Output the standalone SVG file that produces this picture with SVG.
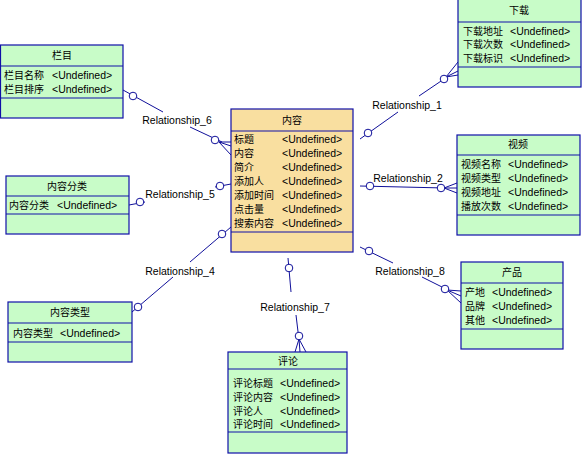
<svg xmlns="http://www.w3.org/2000/svg" width="582" height="454" viewBox="0 0 582 454">
<style>
.ent rect{stroke:#1010A8;stroke-width:1.2}
.g{fill:#C8FCC8}
.o{fill:#F9DFA0}
.sep{stroke:#1010A8;stroke-width:1.2}
text{font-family:"Liberation Sans","Noto Sans CJK SC",sans-serif;font-size:10.5px;fill:#000}
.cjk{font-size:10px}
.hd{text-anchor:middle;font-size:10px}
.lbl{font-size:10.5px}
.c line,.c polyline{stroke:#10109A;stroke-width:1;fill:none}
.c circle{stroke:#10109A;stroke-width:1;fill:#fff}
</style>
<rect width="582" height="454" fill="#fff"/>

<g class="c" id="connectors">
  <!-- Relationship_6 -->
  <line x1="123" y1="90" x2="163" y2="112"/>
  <line x1="190" y1="127" x2="222" y2="142"/>
  <line x1="219" y1="142" x2="231" y2="142"/>
  <line x1="219" y1="142" x2="231" y2="146"/>
  <line x1="219" y1="142" x2="231" y2="155"/>
  <circle cx="133" cy="96" r="3.8"/>
  <circle cx="215" cy="140" r="3.8"/>
  <text class="lbl" x="177" y="124" text-anchor="middle">Relationship_6</text>

  <!-- Relationship_5 -->
  <line x1="129" y1="205" x2="145" y2="202"/>
  <line x1="215" y1="187" x2="231" y2="184"/>
  <circle cx="140" cy="202" r="3.8"/>
  <circle cx="220" cy="186" r="3.8"/>
  <text class="lbl" x="180" y="198" text-anchor="middle">Relationship_5</text>

  <!-- Relationship_4 -->
  <line x1="231" y1="227" x2="190" y2="262"/>
  <line x1="173" y1="277" x2="132" y2="312"/>
  <circle cx="222" cy="234" r="3.8"/>
  <circle cx="138" cy="307" r="3.8"/>
  <text class="lbl" x="180" y="275" text-anchor="middle">Relationship_4</text>

  <!-- Relationship_7 -->
  <line x1="288" y1="258" x2="291" y2="292"/>
  <line x1="296" y1="315" x2="299" y2="340"/>
  <line x1="299" y1="339" x2="295" y2="352"/>
  <line x1="299" y1="339" x2="300" y2="352"/>
  <line x1="299" y1="339" x2="306" y2="352"/>
  <circle cx="289" cy="268" r="3.8"/>
  <circle cx="299" cy="336" r="3.8"/>
  <text class="lbl" x="295" y="311" text-anchor="middle">Relationship_7</text>

  <!-- Relationship_1 -->
  <line x1="360" y1="139" x2="398" y2="112"/>
  <line x1="419" y1="96" x2="447" y2="77"/>
  <line x1="446" y1="77" x2="458" y2="62"/>
  <line x1="446" y1="77" x2="458" y2="71"/>
  <line x1="446" y1="77" x2="458" y2="75"/>
  <circle cx="368" cy="133" r="3.8"/>
  <circle cx="444" cy="79" r="3.8"/>
  <text class="lbl" x="407" y="109" text-anchor="middle">Relationship_1</text>

  <!-- Relationship_2 -->
  <line x1="360" y1="186" x2="445" y2="188"/>
  <line x1="444" y1="188" x2="457" y2="183"/>
  <line x1="444" y1="188" x2="457" y2="188"/>
  <line x1="444" y1="188" x2="457" y2="193"/>
  <circle cx="370" cy="186" r="3.8"/>
  <circle cx="441" cy="188" r="3.8"/>
  <text class="lbl" x="408" y="182" text-anchor="middle">Relationship_2</text>

  <!-- Relationship_8 -->
  <line x1="360" y1="247" x2="393" y2="263"/>
  <line x1="422" y1="277" x2="448" y2="290"/>
  <line x1="447" y1="290" x2="461" y2="291"/>
  <line x1="447" y1="290" x2="461" y2="296"/>
  <line x1="447" y1="290" x2="461" y2="303"/>
  <circle cx="369" cy="251" r="3.8"/>
  <circle cx="445" cy="289" r="3.8"/>
  <text class="lbl" x="410" y="275" text-anchor="middle">Relationship_8</text>
</g>

<g class="ent" id="lanmu">
  <rect class="g" x="0.5" y="45" width="122.5" height="73"/>
  <line class="sep" x1="0.5" y1="66" x2="123" y2="66"/>
  <line class="sep" x1="0.5" y1="98" x2="123" y2="98"/>
  <text class="hd" x="62" y="59">栏目</text>
  <text class="cjk" x="4" y="79">栏目名称</text><text x="52" y="79">&lt;Undefined&gt;</text>
  <text class="cjk" x="4" y="93">栏目排序</text><text x="52" y="93">&lt;Undefined&gt;</text>
</g>

<g class="ent" id="neirongfenlei">
  <rect class="g" x="6" y="176" width="123" height="58"/>
  <line class="sep" x1="6" y1="196" x2="129" y2="196"/>
  <line class="sep" x1="6" y1="214" x2="129" y2="214"/>
  <text class="hd" x="67" y="190">内容分类</text>
  <text class="cjk" x="9" y="209">内容分类</text><text x="57" y="209">&lt;Undefined&gt;</text>
</g>

<g class="ent" id="neirongleixing">
  <rect class="g" x="8" y="302" width="124" height="60"/>
  <line class="sep" x1="8" y1="323" x2="132" y2="323"/>
  <line class="sep" x1="8" y1="342" x2="132" y2="342"/>
  <text class="hd" x="70" y="316">内容类型</text>
  <text class="cjk" x="13" y="337">内容类型</text><text x="60" y="337">&lt;Undefined&gt;</text>
</g>

<g class="ent" id="neirong">
  <rect class="o" x="231" y="109" width="122" height="143"/>
  <line class="sep" x1="231" y1="131" x2="353" y2="131"/>
  <line class="sep" x1="231" y1="232" x2="353" y2="232"/>
  <text class="hd" x="292" y="124">内容</text>
  <text class="cjk" x="234" y="143">标题</text><text x="282" y="143">&lt;Undefined&gt;</text>
  <text class="cjk" x="234" y="157">内容</text><text x="282" y="157">&lt;Undefined&gt;</text>
  <text class="cjk" x="234" y="171">简介</text><text x="282" y="171">&lt;Undefined&gt;</text>
  <text class="cjk" x="234" y="185">添加人</text><text x="282" y="185">&lt;Undefined&gt;</text>
  <text class="cjk" x="234" y="199">添加时间</text><text x="282" y="199">&lt;Undefined&gt;</text>
  <text class="cjk" x="234" y="213">点击量</text><text x="282" y="213">&lt;Undefined&gt;</text>
  <text class="cjk" x="234" y="227">搜索内容</text><text x="282" y="227">&lt;Undefined&gt;</text>
</g>

<g class="ent" id="xiazai">
  <rect class="g" x="458" y="-1" width="123" height="88"/>
  <line class="sep" x1="458" y1="22" x2="581" y2="22"/>
  <line class="sep" x1="458" y1="67" x2="581" y2="67"/>
  <text class="hd" x="519" y="14">下载</text>
  <text class="cjk" x="463" y="35">下载地址</text><text x="510" y="35">&lt;Undefined&gt;</text>
  <text class="cjk" x="463" y="48">下载次数</text><text x="510" y="48">&lt;Undefined&gt;</text>
  <text class="cjk" x="463" y="62">下载标识</text><text x="510" y="62">&lt;Undefined&gt;</text>
</g>

<g class="ent" id="shipin">
  <rect class="g" x="457" y="135" width="123" height="100"/>
  <line class="sep" x1="457" y1="155" x2="580" y2="155"/>
  <line class="sep" x1="457" y1="215" x2="580" y2="215"/>
  <text class="hd" x="518" y="148">视频</text>
  <text class="cjk" x="461" y="168">视频名称</text><text x="508" y="168">&lt;Undefined&gt;</text>
  <text class="cjk" x="461" y="182">视频类型</text><text x="508" y="182">&lt;Undefined&gt;</text>
  <text class="cjk" x="461" y="196">视频地址</text><text x="508" y="196">&lt;Undefined&gt;</text>
  <text class="cjk" x="461" y="210">播放次数</text><text x="508" y="210">&lt;Undefined&gt;</text>
</g>

<g class="ent" id="chanpin">
  <rect class="g" x="461" y="262" width="102" height="87"/>
  <line class="sep" x1="461" y1="283" x2="563" y2="283"/>
  <line class="sep" x1="461" y1="329" x2="563" y2="329"/>
  <text class="hd" x="512" y="276">产品</text>
  <text class="cjk" x="465" y="296">产地</text><text x="492" y="296">&lt;Undefined&gt;</text>
  <text class="cjk" x="465" y="310">品牌</text><text x="492" y="310">&lt;Undefined&gt;</text>
  <text class="cjk" x="465" y="324">其他</text><text x="492" y="324">&lt;Undefined&gt;</text>
</g>

<g class="ent" id="pinglun">
  <rect class="g" x="228" y="352" width="119" height="101"/>
  <line class="sep" x1="228" y1="369" x2="347" y2="369"/>
  <line class="sep" x1="228" y1="432" x2="347" y2="432"/>
  <text class="hd" x="288" y="365">评论</text>
  <text class="cjk" x="233" y="387">评论标题</text><text x="280" y="387">&lt;Undefined&gt;</text>
  <text class="cjk" x="233" y="401">评论内容</text><text x="280" y="401">&lt;Undefined&gt;</text>
  <text class="cjk" x="233" y="415">评论人</text><text x="280" y="415">&lt;Undefined&gt;</text>
  <text class="cjk" x="233" y="428">评论时间</text><text x="280" y="428">&lt;Undefined&gt;</text>
</g>
</svg>
